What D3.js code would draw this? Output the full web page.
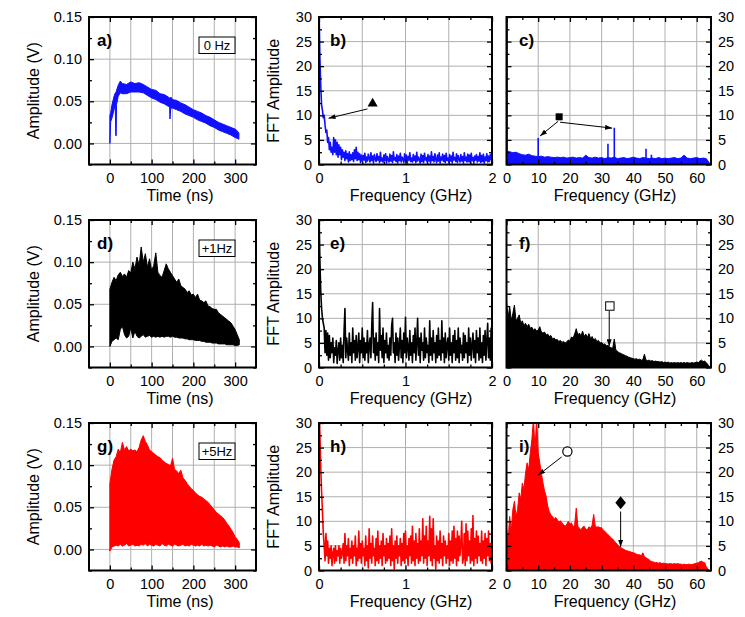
<!DOCTYPE html>
<html>
<head>
<meta charset="utf-8">
<script src="https://cdnjs.cloudflare.com/ajax/libs/d3/7.8.5/d3.min.js"></script>
<style>
body { margin: 0; background: #fff; }
text { font-family: "Liberation Sans", Arial, sans-serif; fill: #000; }
</style>
</head>
<body>
<svg id="fig" width="745" height="617"></svg>
<script>
// ---------- data ----------
// a) 0 Hz : thin trace, upper / lower edge of the band
var aTime = [0, 2, 5, 10, 13, 14, 15, 16, 20, 25, 30, 40, 50, 60, 70, 80, 90, 100, 110, 120, 130, 140, 143, 144, 146, 150, 160, 170, 180, 190, 200, 210, 220, 230, 240, 250, 260, 270, 280, 290, 300, 305, 309];
var aHigh = [0.033, 0.037, 0.046, 0.056, 0.060, 0.060, 0.061, 0.063, 0.069, 0.074, 0.071, 0.070, 0.073, 0.071, 0.072, 0.070, 0.067, 0.064, 0.063, 0.059, 0.058, 0.055, 0.054, 0.051, 0.055, 0.052, 0.051, 0.048, 0.046, 0.043, 0.040, 0.038, 0.036, 0.033, 0.031, 0.028, 0.025, 0.023, 0.021, 0.019, 0.017, 0.015, 0.012];
var aLow = [0.000, 0.026, 0.030, 0.040, 0.045, 0.010, 0.009, 0.046, 0.056, 0.060, 0.059, 0.059, 0.061, 0.061, 0.061, 0.060, 0.057, 0.054, 0.052, 0.049, 0.047, 0.044, 0.043, 0.029, 0.042, 0.042, 0.040, 0.038, 0.035, 0.033, 0.031, 0.028, 0.026, 0.024, 0.021, 0.019, 0.016, 0.014, 0.012, 0.010, 0.007, 0.006, 0.005];

// d) +1 Hz and g) +5 Hz : envelopes every 5 ns from 0 to 310 ns
var envStep = 5;
var dHigh = [0.068, 0.076, 0.082, 0.078, 0.085, 0.088, 0.083, 0.086, 0.082, 0.090, 0.087, 0.100, 0.092, 0.106, 0.096, 0.118, 0.100, 0.110, 0.094, 0.104, 0.090, 0.096, 0.111, 0.088, 0.084, 0.082, 0.090, 0.098, 0.092, 0.088, 0.084, 0.080, 0.076, 0.080, 0.072, 0.070, 0.068, 0.064, 0.066, 0.061, 0.062, 0.058, 0.062, 0.055, 0.054, 0.052, 0.054, 0.048, 0.047, 0.045, 0.044, 0.044, 0.040, 0.038, 0.036, 0.034, 0.032, 0.030, 0.028, 0.024, 0.020, 0.014, 0.008];
var dLow = [0.000, 0.006, 0.008, 0.010, 0.008, 0.020, 0.024, 0.014, 0.010, 0.012, 0.022, 0.010, 0.018, 0.012, 0.010, 0.012, 0.014, 0.011, 0.012, 0.013, 0.011, 0.012, 0.011, 0.012, 0.011, 0.012, 0.011, 0.012, 0.012, 0.011, 0.012, 0.011, 0.011, 0.010, 0.010, 0.010, 0.009, 0.009, 0.008, 0.008, 0.008, 0.007, 0.007, 0.007, 0.006, 0.006, 0.005, 0.005, 0.005, 0.004, 0.004, 0.004, 0.003, 0.003, 0.003, 0.003, 0.002, 0.002, 0.002, 0.002, 0.001, 0.001, 0.002];
var gHigh = [0.078, 0.095, 0.106, 0.110, 0.119, 0.115, 0.127, 0.118, 0.122, 0.117, 0.119, 0.117, 0.118, 0.116, 0.121, 0.130, 0.135, 0.128, 0.124, 0.118, 0.116, 0.114, 0.112, 0.110, 0.109, 0.106, 0.104, 0.102, 0.101, 0.099, 0.108, 0.095, 0.093, 0.090, 0.094, 0.085, 0.082, 0.078, 0.075, 0.072, 0.070, 0.067, 0.065, 0.063, 0.062, 0.060, 0.058, 0.056, 0.053, 0.050, 0.047, 0.044, 0.042, 0.040, 0.038, 0.035, 0.031, 0.028, 0.024, 0.020, 0.015, 0.012, 0.008];
var gLow = [-0.002, 0.003, 0.004, 0.005, 0.004, 0.006, 0.004, 0.005, 0.007, 0.004, 0.005, 0.006, 0.004, 0.005, 0.004, 0.006, 0.005, 0.007, 0.004, 0.006, 0.005, 0.004, 0.006, 0.005, 0.004, 0.007, 0.005, 0.004, 0.006, 0.005, 0.004, 0.006, 0.005, 0.004, 0.005, 0.006, 0.004, 0.005, 0.004, 0.006, 0.005, 0.004, 0.005, 0.004, 0.006, 0.004, 0.005, 0.004, 0.005, 0.004, 0.003, 0.005, 0.004, 0.003, 0.004, 0.003, 0.004, 0.003, 0.003, 0.004, 0.003, 0.003, 0.002];

// b), e), h) : FFT 0-2 GHz, one value every 0.01 GHz
var lowStep = 0.01;
var bFft = [32, 22, 16, 12, 11, 9.5, 10, 8, 6.5, 7,
  4.5, 5.5, 3, 4.5, 2.5, 3.5, 2, 5.5, 2.5, 5,
  2, 4.5, 1.5, 4, 2, 3.5, 1, 3, 1.5, 2.5,
  0.8, 2.8, 1.2, 2.2, 0.5, 2.6, 0.8, 2, 1, 2.4,
  0.6, 3, 1.2, 3.5, 0.8, 2.5, 1, 2.2, 0.4, 1.9,
  0.7, 1.8, 0.9, 2.3, 0.4, 1.5, 0.7, 2.1, 1.2, 0.5,
  2.4, 0.8, 1.7, 0.3, 2.0, 1.1, 0.6, 2.2, 0.9, 1.6,
  0.4, 2.5, 0.7, 1.3, 0.5, 1.9, 0.8, 2.2, 0.3, 1.6,
  1.0, 0.5, 2.1, 0.7, 1.8, 0.4, 2.6, 0.9, 1.4, 0.6,
  2.0, 0.3, 1.7, 0.8, 2.3, 0.5, 1.5, 1.1, 0.4, 2.2,
  0.7, 1.9, 0.3, 1.6, 0.9, 2.4, 0.6, 1.3, 0.5, 2.0,
  0.8, 1.7, 0.4, 2.5, 0.7, 1.5, 1.0, 0.3, 2.1, 0.6,
  1.8, 0.4, 2.3, 0.9, 1.4, 0.5, 2.0, 0.7, 1.7, 0.3,
  2.6, 0.8, 1.6, 0.5, 2.2, 1.0, 0.4, 1.9, 0.7, 2.4,
  0.3, 1.5, 0.9, 2.1, 0.6, 1.8, 0.4, 2.3, 0.8, 1.3,
  0.5, 2.0, 0.7, 1.7, 0.3, 2.5, 0.9, 1.4, 0.6, 2.2,
  0.4, 1.8, 1.0, 0.5, 2.0, 0.7, 1.6, 0.3, 2.4, 0.8,
  1.5, 0.5, 2.1, 0.6, 1.9, 0.4, 2.3, 0.8, 1.4, 0.3,
  1.7, 0.9, 2.0, 0.5, 1.6, 0.7, 2.4, 0.4, 1.8, 0.6,
  2.1, 0.3, 1.5, 0.8, 2.2, 0.5, 1.7, 0.6, 2.0, 1.0,
  2.7];
var eFft = [32, 22, 15.5, 12, 10, 9, 8, 3, 7.5, 2.5,
  7, 1.5, 6.5, 2, 5, 3, 6, 1, 4, 2.5,
  5.5, 0.8, 3.5, 5, 1.5, 6, 2, 4.5, 1, 7.5,
  12, 2, 6, 3.5, 1.5, 7, 2.5, 5, 1, 8,
  3, 5.5, 1.5, 6.5, 2, 4, 7, 1, 5.5, 3,
  8, 2, 6, 1.5, 5, 3, 7.5, 1, 4.5, 6,
  2, 8.5, 13.2, 3, 6, 1.5, 7, 2.5, 5, 1,
  12, 3.5, 6.5, 2, 8, 1, 5.5, 3, 7, 2,
  4.5, 1.5, 6, 2.5, 8.5, 10, 3, 5, 1, 7,
  2.5, 6, 1.5, 4.5, 8, 2, 5.5, 1, 7, 3,
  10.2, 2, 6, 4, 1.5, 7.5, 2.5, 5, 1, 6.5,
  3, 8, 1.5, 5, 10, 2.5, 6, 1, 7, 3.5,
  5, 1.5, 8, 2, 6, 3, 4.5, 1, 9.5, 2.5,
  6, 1.5, 7.5, 3, 5, 1, 6.5, 2, 8, 2.5,
  5.5, 1.5, 9.5, 3, 6, 1, 7, 2, 4.5, 6,
  1.5, 8, 2.5, 5, 1, 6.5, 3, 7.5, 1.5, 5.5,
  2, 8, 1, 6, 3, 4.5, 1.5, 7, 2, 6.5,
  3, 5, 1, 8, 2.5, 6, 1.5, 4.5, 7, 2,
  5.5, 1, 7.5, 3, 6, 1.5, 8, 2, 5, 1,
  6.5, 2.5, 7.5, 1.5, 5.5, 9, 2, 6, 1.5, 8,
  5];
var hFft = [32, 28, 21, 16, 12, 7.5, 5, 2, 7.5, 3,
  6, 1.5, 4.5, 2.5, 5, 1, 3.5, 4.5, 1.5, 5,
  2, 4, 3, 5, 1.5, 4.5, 2.5, 3.5, 5.5, 1.5,
  7.5, 2, 5, 3, 6.5, 1, 4.5, 2.5, 6, 1.5,
  5, 3, 7, 1, 4.5, 2, 8, 2.5, 5.5, 1.5,
  6, 3, 4.5, 1, 7, 2, 5, 0.5, 8.5, 2.5,
  5.5, 1.5, 7, 3, 4.5, 1, 6.5, 2, 8, 1.5,
  5, 2.5, 6, 1, 7.5, 3, 5, 1.5, 6.5, 2,
  5.5, 2.5, 7, 1, 8.5, 2, 5, 0.3, 6, 2.5,
  7, 1.5, 5, 3, 6.5, 1, 5.5, 2, 7.5, 1.5,
  8, 2.5, 5, 1, 6.5, 3, 7, 1.5, 9, 2,
  6, 1, 7.5, 2.5, 5.5, 1.5, 8.5, 2, 6, 3,
  10.5, 1.5, 7, 2.5, 9, 1, 6, 3, 11, 2,
  8.5, 1, 10.5, 2.5, 5, 0.3, 7, 2, 6, 1.5,
  8, 2.5, 5.5, 1, 7, 3, 6, 1.5, 5, 2.5,
  7.5, 1, 6, 2, 8, 1.5, 9, 2.5, 6.5, 1,
  8, 2, 7, 3, 5.5, 10, 1.5, 2.5, 7.5, 1,
  9.5, 2, 8, 3, 6, 1.5, 8.5, 2, 11.2, 1,
  6.5, 2.5, 8, 1.5, 7, 3, 5.5, 2, 8, 1.5,
  6, 2.5, 7.5, 1, 6.5, 3, 8, 2, 5.5, 1.5,
  5];

// c) : FFT 0-64 GHz every 1 GHz, plus the narrow lines
var cStep = 1;
var cFft = [2.8, 2.6, 2.4, 2.5, 2.2, 2.0, 1.9, 2.1, 1.8, 1.7, 1.6, 1.7, 1.5, 1.6, 1.5, 1.4, 1.5, 1.4, 1.5, 1.3, 1.4, 1.5, 1.3, 1.4, 1.3, 1.9, 1.4, 1.3, 1.5, 1.3, 1.4, 1.2, 1.4, 1.3, 1.5, 1.2, 1.3, 1.4, 1.2, 1.3, 1.5, 1.3, 1.2, 1.4, 1.3, 1.2, 1.3, 1.2, 1.4, 1.2, 1.3, 1.2, 1.3, 1.4, 1.2, 1.3, 1.9, 1.3, 1.2, 1.3, 1.4, 1.2, 1.3, 1.2, 0.3];
var cLines = [[0.2, 32], [10, 5.4], [32, 4.2], [34, 7.5], [44, 3.2], [45.7, 2.0]];

// f) and i) : FFT 0-64.5 GHz every 0.5 GHz
var wideStep = 0.5;
var fFft = [13.5, 10, 12.5, 9.5, 11, 12.7, 9.5, 10, 10.7, 9, 9.5, 8.5, 9, 8.3, 8.8, 8, 8.2, 7.6, 7.9, 7.4, 7.6, 8.3, 7.2, 7.0, 7.2, 6.6, 6.8, 6.3, 6.5, 5.8, 6.0, 5.6, 5.7, 5.3, 5.5, 5.1, 5.3, 5.0, 5.2, 5.6, 5.4, 6.2, 6.0, 6.8, 7.9, 6.6, 7.0, 6.4, 7.4, 6.3, 6.8, 6.1, 6.9, 5.9, 6.3, 5.6, 5.9, 5.3, 5.5, 5.0, 5.1, 4.7, 4.8, 4.4, 4.5, 4.2, 4.0, 3.9, 5.8, 3.5, 3.3, 3.0, 2.9, 2.7, 2.6, 2.4, 2.3, 2.1, 2.0, 1.9, 1.8, 1.7, 1.8, 1.6, 1.7, 1.5, 1.6, 2.7, 1.5, 1.4, 1.5, 1.3, 1.4, 1.2, 1.3, 1.2, 1.2, 1.1, 1.2, 1.0, 1.1, 1.0, 1.1, 0.9, 1.0, 0.9, 1.0, 0.9, 1.0, 0.9, 1.0, 0.9, 1.0, 0.9, 1.0, 0.9, 0.9, 1.0, 0.9, 1.0, 1.1, 1.0, 1.3, 1.5, 1.2, 1.3, 1.0, 0.6, 0.2, 0];
var iFft = [8.5, 6, 11, 8, 12.4, 14.1, 11, 12.4, 15.8, 14.5, 17.8, 16.5, 19.8, 21.9, 20.5, 23.9, 26.6, 31, 24.5, 31, 24, 21.9, 19.8, 17.8, 16.2, 15.1, 13.1, 12, 11.3, 11, 10.4, 10.8, 10.4, 9.8, 10.1, 9.7, 9.3, 9.0, 9.4, 10.0, 9.4, 9.7, 8.8, 9.3, 12.7, 9.0, 8.6, 8.3, 8.8, 9.0, 8.4, 8.3, 8.9, 8.6, 9.2, 11.4, 9.0, 8.8, 8.9, 8.7, 8.7, 8.2, 8.0, 7.6, 7.3, 7.0, 6.6, 6.4, 6.0, 5.6, 5.3, 4.9, 4.7, 4.5, 4.3, 4.1, 4.0, 3.9, 3.8, 3.7, 3.6, 3.5, 3.3, 3.2, 3.2, 3.0, 3.6, 2.8, 2.6, 2.4, 2.2, 1.9, 1.8, 1.7, 1.6, 1.6, 1.5, 1.6, 1.4, 1.5, 1.4, 1.4, 1.3, 1.4, 1.35, 1.3, 1.4, 1.3, 1.4, 1.3, 1.3, 1.2, 1.3, 1.2, 1.2, 1.3, 1.2, 1.2, 1.3, 1.4, 1.5, 1.6, 1.8, 1.9, 1.7, 1.6, 0.8, 0.3, 0, 0];

// ticks and labels
var timeTicks = [0, 100, 200, 300];
var timeMinor = [50, 150, 250];
var timeGrid = [0, 50, 100, 150, 200, 250, 300];
var ampTicks = [0, 0.05, 0.10, 0.15];
var ampMinor = [-0.025, 0.025, 0.075, 0.125];
var lowFreqTicks = [0, 1, 2];
var lowFreqMinor = [0.25, 0.5, 0.75, 1.25, 1.5, 1.75];
var lowFreqGrid = [0.5, 1, 1.5];
var wideFreqTicks = [0, 10, 20, 30, 40, 50, 60];
var wideFreqMinor = [5, 15, 25, 35, 45, 55];
var fftTicks = [0, 5, 10, 15, 20, 25, 30];
var fftMinor = [2.5, 7.5, 12.5, 17.5, 22.5, 27.5];
var panelLetters = [["a)", "b)", "c)"], ["d)", "e)", "f)"], ["g)", "h)", "i)"]];
var stateLabels = ["0 Hz", "+1Hz", "+5Hz"];
var traceColors = ["#1010ff", "#000000", "#ff0000"];

// ---------- layout ----------
var cols = [[89, 256], [319, 492], [506.5, 711]];
var rows = [[17, 164.5], [220, 367.5], [423, 570.5]];

var svg = d3.select("#fig");
var defs = svg.append("defs");
defs.append("marker").attr("id", "arrow")
  .attr("viewBox", "0 0 10 10").attr("refX", 10).attr("refY", 5)
  .attr("markerWidth", 7).attr("markerHeight", 5)
  .attr("markerUnits", "userSpaceOnUse").attr("orient", "auto")
  .attr("preserveAspectRatio", "none")
  .append("path").attr("d", "M0,0L10,5L0,10Z").attr("fill", "#000");

function panel(ci, ri, opt) {
  var c = cols[ci], r = rows[ri];
  var x = d3.scaleLinear().domain(opt.xDomain).range(c);
  var y = d3.scaleLinear().domain(opt.yDomain).range([r[1], r[0]]);
  var g = svg.append("g");

  // grid
  g.selectAll(null).data(opt.xGrid).enter().append("line")
    .attr("x1", x).attr("x2", x).attr("y1", r[0]).attr("y2", r[1])
    .attr("stroke", "#b0b0b0").attr("stroke-width", 1);
  g.selectAll(null).data(opt.yGrid).enter().append("line")
    .attr("y1", y).attr("y2", y).attr("x1", c[0]).attr("x2", c[1])
    .attr("stroke", "#b0b0b0").attr("stroke-width", 1);

  var id = "clip" + ci + ri;
  defs.append("clipPath").attr("id", id).append("rect")
    .attr("x", c[0]).attr("y", r[0]).attr("width", c[1] - c[0]).attr("height", r[1] - r[0]);
  var plot = g.append("g").attr("clip-path", "url(#" + id + ")");
  opt.draw(plot, x, y);

  // frame
  g.append("rect").attr("x", c[0]).attr("y", r[0])
    .attr("width", c[1] - c[0]).attr("height", r[1] - r[0])
    .attr("fill", "none").attr("stroke", "#000").attr("stroke-width", 2);

  // ticks, inward on all four sides
  function addAxis(axis, tr, vals, size, fmt) {
    var a = g.append("g").attr("transform", tr)
      .call(axis.tickValues(vals).tickSize(-size).tickPadding(opt.pad || 7).tickFormat(fmt));
    a.select(".domain").remove();
    a.attr("font-family", null);
    a.selectAll("line").attr("stroke", "#000").attr("stroke-width", 1.3);
    a.selectAll("text").style("font-size", "14.5px");
    return a;
  }
  var none = function () { return ""; };
  var bx = addAxis(d3.axisBottom(x), "translate(0," + r[1] + ")", opt.xTicks, 5, opt.xFmt);
  bx.selectAll("text").attr("y", 8);
  addAxis(d3.axisBottom(x), "translate(0," + r[1] + ")", opt.xMinor, 3, none);
  addAxis(d3.axisTop(x), "translate(0," + r[0] + ")", opt.xTicks, 5, none);
  addAxis(d3.axisTop(x), "translate(0," + r[0] + ")", opt.xMinor, 3, none);
  addAxis(d3.axisLeft(y), "translate(" + c[0] + ",0)", opt.yTicks, 5, opt.yRight ? none : opt.yFmt);
  addAxis(d3.axisLeft(y), "translate(" + c[0] + ",0)", opt.yMinor, 3, none);
  addAxis(d3.axisRight(y), "translate(" + c[1] + ",0)", opt.yTicks, 5, opt.yRight ? opt.yFmt : none);
  addAxis(d3.axisRight(y), "translate(" + c[1] + ",0)", opt.yMinor, 3, none);

  // titles
  g.append("text").attr("x", opt.xTitleX).attr("y", r[1] + 36)
    .attr("text-anchor", "middle").style("font-size", "16px").text(opt.xTitle);
  if (opt.yTitle) {
    var cy = (r[0] + r[1]) / 2;
    g.append("text").attr("transform", "translate(" + opt.yTitleX + "," + cy + ") rotate(-90)")
      .attr("text-anchor", "middle").style("font-size", "16px").text(opt.yTitle);
  }
  g.append("text").attr("x", c[0] + opt.letterDx).attr("y", r[0] + 28.5)
    .style("font-size", "17px").style("font-weight", "bold").text(panelLetters[ri][ci]);
  return { g: g, x: x, y: y };
}

function bandArea(times, hi, lo, x, y) {
  var n = Math.min(hi.length, lo.length);
  return d3.area()
    .x(function (i) { return x(times(i)); })
    .y0(function (i) { return y(lo[i]); })
    .y1(function (i) { return y(hi[i]); })(d3.range(n));
}

function arrow(g, x, y, from, to) {
  g.append("line").attr("x1", x(from[0])).attr("y1", y(from[1]))
    .attr("x2", x(to[0])).attr("y2", y(to[1]))
    .attr("stroke", "#000").attr("stroke-width", 1).attr("marker-end", "url(#arrow)");
}

var fmtAmp = d3.format(".2f");
var fmtInt = d3.format("d");

// ---------- column 1: time traces ----------
var timeData = [
  { hi: aHigh, lo: aLow, t: function (i) { return aTime[i]; } },
  { hi: dHigh, lo: dLow, t: function (i) { return i * envStep; } },
  { hi: gHigh, lo: gLow, t: function (i) { return i * envStep; } }
];
timeData.forEach(function (td, ri) {
  var p = panel(0, ri, {
    xDomain: [-50, 350], yDomain: [-0.025, 0.15],
    xGrid: timeGrid, yGrid: [0, 0.05, 0.10],
    xTicks: timeTicks, xMinor: timeMinor, yTicks: ampTicks, yMinor: ampMinor,
    xFmt: fmtInt, yFmt: fmtAmp,
    xTitle: "Time (ns)", xTitleX: 180, yTitle: "Amplitude (V)", yTitleX: 38.5, letterDx: 8,
    draw: function (plot, x, y) {
      plot.append("path").attr("d", bandArea(td.t, td.hi, td.lo, x, y))
        .attr("fill", traceColors[ri]).attr("stroke", traceColors[ri]).attr("stroke-width", 1);
    }
  });
  var r = rows[ri];
  var bx = 199, bw = 36;
  p.g.append("rect").attr("x", bx).attr("y", r[0] + 20).attr("width", bw).attr("height", 16.5)
    .attr("fill", "#fff").attr("stroke", "#000").attr("stroke-width", 1);
  p.g.append("text").attr("x", bx + bw / 2).attr("y", r[0] + 33).attr("text-anchor", "middle")
    .style("font-size", "13px").text(stateLabels[ri]);
});

// ---------- column 2: FFT 0-2 GHz ----------
[bFft, eFft, hFft].forEach(function (vals, ri) {
  var p = panel(1, ri, {
    xDomain: [0, 2], yDomain: [0, 30],
    xGrid: lowFreqGrid, yGrid: [5, 10, 15, 20, 25],
    xTicks: lowFreqTicks, xMinor: lowFreqMinor, yTicks: fftTicks, yMinor: fftMinor,
    xFmt: fmtInt, yFmt: fmtInt,
    xTitle: "Frequency (GHz)", xTitleX: 411, yTitle: "FFT Amplitude", yTitleX: 279, letterDx: 11,
    draw: function (plot, x, y) {
      plot.append("path")
        .attr("d", d3.line().x(function (d, i) { return x(i * lowStep); }).y(function (d) { return y(d); })(vals))
        .attr("fill", "none").attr("stroke", traceColors[ri]).attr("stroke-width", 1.6)
        .attr("stroke-linejoin", "round");
    }
  });
  if (ri === 0) {
    p.g.append("path").attr("d", d3.symbol(d3.symbolTriangle, 45)())
      .attr("transform", "translate(" + p.x(0.62) + "," + p.y(12.4) + ")").attr("fill", "#000");
    arrow(p.g, p.x, p.y, [0.56, 11.3], [0.11, 9.4]);
  }
});

// ---------- column 3: FFT 0-64 GHz ----------
var wideOpt = function (draw) {
  return {
    xDomain: [0, 64.5], yDomain: [0, 30],
    xGrid: [10, 20, 30, 40, 50, 60], yGrid: [5, 10, 15, 20, 25],
    xTicks: wideFreqTicks, xMinor: wideFreqMinor, yTicks: fftTicks, yMinor: fftMinor,
    xFmt: fmtInt, yFmt: fmtInt, yRight: true,
    xTitle: "Frequency (GHz)", xTitleX: 615, letterDx: 12.5,
    draw: draw
  };
};
function filledSpectrum(plot, x, y, vals, step, color) {
  plot.append("path")
    .attr("d", d3.area().x(function (d, i) { return x(i * step); })
      .y0(y(0)).y1(function (d) { return y(d); })(vals))
    .attr("fill", color).attr("stroke", color).attr("stroke-width", 1);
}

var pc = panel(2, 0, wideOpt(function (plot, x, y) {
  filledSpectrum(plot, x, y, cFft, cStep, traceColors[0]);
  plot.selectAll(null).data(cLines).enter().append("line")
    .attr("x1", function (d) { return x(d[0]); }).attr("x2", function (d) { return x(d[0]); })
    .attr("y1", y(0)).attr("y2", function (d) { return y(d[1]); })
    .attr("stroke", traceColors[0]).attr("stroke-width", 1.6);
}));
pc.g.append("rect").attr("x", pc.x(16.6) - 3.5).attr("y", pc.y(9.7) - 3.5)
  .attr("width", 7).attr("height", 7).attr("fill", "#000");
arrow(pc.g, pc.x, pc.y, [16.3, 8.8], [10.6, 5.8]);
arrow(pc.g, pc.x, pc.y, [16.9, 8.6], [33.3, 7.4]);

var pf = panel(2, 1, wideOpt(function (plot, x, y) {
  filledSpectrum(plot, x, y, fFft, wideStep, traceColors[1]);
}));
pf.g.append("rect").attr("x", pf.x(32.6) - 4.2).attr("y", pf.y(12.5) - 4.2)
  .attr("width", 8.4).attr("height", 8.4).attr("fill", "#fff").attr("stroke", "#000").attr("stroke-width", 1);
arrow(pf.g, pf.x, pf.y, [32.4, 11.5], [32.4, 4.3]);

var pi = panel(2, 2, wideOpt(function (plot, x, y) {
  filledSpectrum(plot, x, y, iFft, wideStep, traceColors[2]);
}));
pi.g.append("circle").attr("cx", pi.x(19.2)).attr("cy", pi.y(24.2)).attr("r", 4.6)
  .attr("fill", "#fff").attr("stroke", "#000").attr("stroke-width", 1.2);
arrow(pi.g, pi.x, pi.y, [17.4, 23.1], [10.0, 19.4]);
pi.g.append("path").attr("d", "M0,-6.5L5.3,0L0,6.5L-5.3,0Z")
  .attr("transform", "translate(" + pi.x(36.0) + "," + pi.y(13.8) + ")").attr("fill", "#000");
arrow(pi.g, pi.x, pi.y, [36.0, 12.0], [36.0, 4.8]);
</script>
</body>
</html>
